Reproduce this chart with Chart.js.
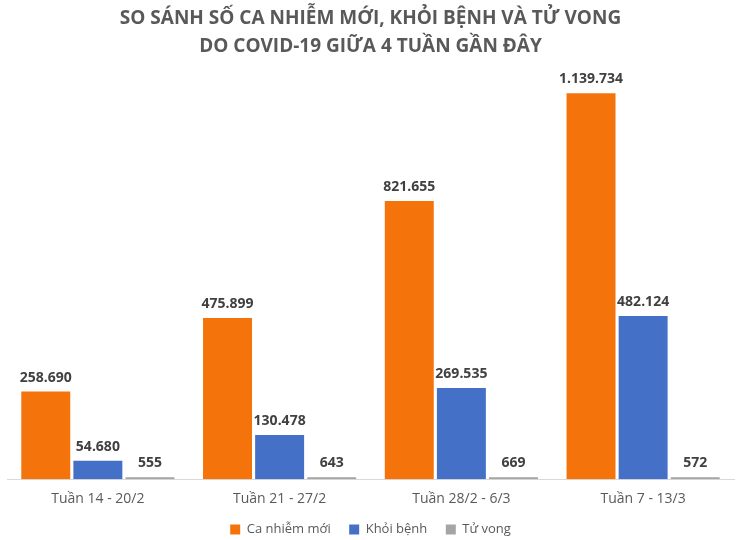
<!DOCTYPE html>
<html><head><meta charset="utf-8">
<script src="https://cdn.jsdelivr.net/npm/chart.js@4/dist/chart.umd.min.js"></script>
<style>html,body{margin:0;padding:0;background:#fff}#wrap{width:746px;height:540px}</style>
</head><body><div id="wrap"><canvas id="c" width="746" height="540"></canvas></div>
<script>
const categories = ["Tuần 14 - 20/2", "Tuần 21 - 27/2", "Tuần 28/2 - 6/3", "Tuần 7 - 13/3"];
const newCases = [258690, 475899, 821655, 1139734];
const recovered = [54680, 130478, 269535, 482124];
const deaths = [555, 643, 669, 572];
const seriesNames = ["Ca nhiễm mới", "Khỏi bệnh", "Tử vong"];
const titleLines = ["SO SÁNH SỐ CA NHIỄM MỚI, KHỎI BỆNH VÀ TỬ VONG", "DO COVID-19 GIỮA 4 TUẦN GẦN ĐÂY"];

const fmt = v => v.toString().replace(/\B(?=(\d{3})+(?!\d))/g, ".");

const labelPlugin = {
  id: 'valLabels',
  afterDatasetsDraw(chart) {
    const ctx = chart.ctx;
    ctx.save();
    ctx.font = 'bold 14px "Open Sans", sans-serif';
    ctx.fillStyle = '#404040';
    ctx.textAlign = 'center';
    ctx.textBaseline = 'bottom';
    chart.data.datasets.forEach((ds, i) => {
      chart.getDatasetMeta(i).data.forEach((bar, j) => {
        ctx.fillText(fmt(ds.data[j]), bar.x, bar.y - 7);
      });
    });
    ctx.restore();
  }
};

new Chart(document.getElementById('c'), {
  type: 'bar',
  data: {
    labels: categories,
    datasets: [
      { label: seriesNames[0], data: newCases, backgroundColor: '#F5730B' },
      { label: seriesNames[1], data: recovered, backgroundColor: '#4470C8' },
      { label: seriesNames[2], data: deaths, backgroundColor: '#A5A5A5', minBarLength: 2 }
    ]
  },
  options: {
    responsive: false,
    animation: false,
    devicePixelRatio: 1,
    layout: { padding: { left: 7, right: 12, top: 0, bottom: -6 } },
    datasets: { bar: { categoryPercentage: 0.86, barPercentage: 0.94 } },
    plugins: {
      title: {
        display: true,
        text: titleLines,
        color: '#595959',
        font: { family: '"Open Sans", sans-serif', size: 19, weight: 'bold', lineHeight: 1.47 },
        padding: { top: 5, bottom: 12 }
      },
      legend: {
        position: 'bottom',
        labels: {
          color: '#595959',
          font: { family: '"Open Sans", sans-serif', size: 13 },
          boxWidth: 10, boxHeight: 10, padding: 5,
          generateLabels(chart) {
            const items = Chart.defaults.plugins.legend.labels.generateLabels(chart);
            items.forEach((it, i) => { if (i < items.length - 1) it.text += '    '; });
            return items;
          }
        }
      },
      tooltip: { enabled: false }
    },
    scales: {
      x: {
        grid: { display: false, drawTicks: false },
        border: { color: '#D9D9D9', width: 1 },
        ticks: { color: '#595959', font: { family: '"Open Sans", sans-serif', size: 14 }, padding: 11 }
      },
      y: {
        display: false,
        min: 0,
        max: 1200000
      }
    }
  },
  plugins: [labelPlugin]
});
</script></body></html>
